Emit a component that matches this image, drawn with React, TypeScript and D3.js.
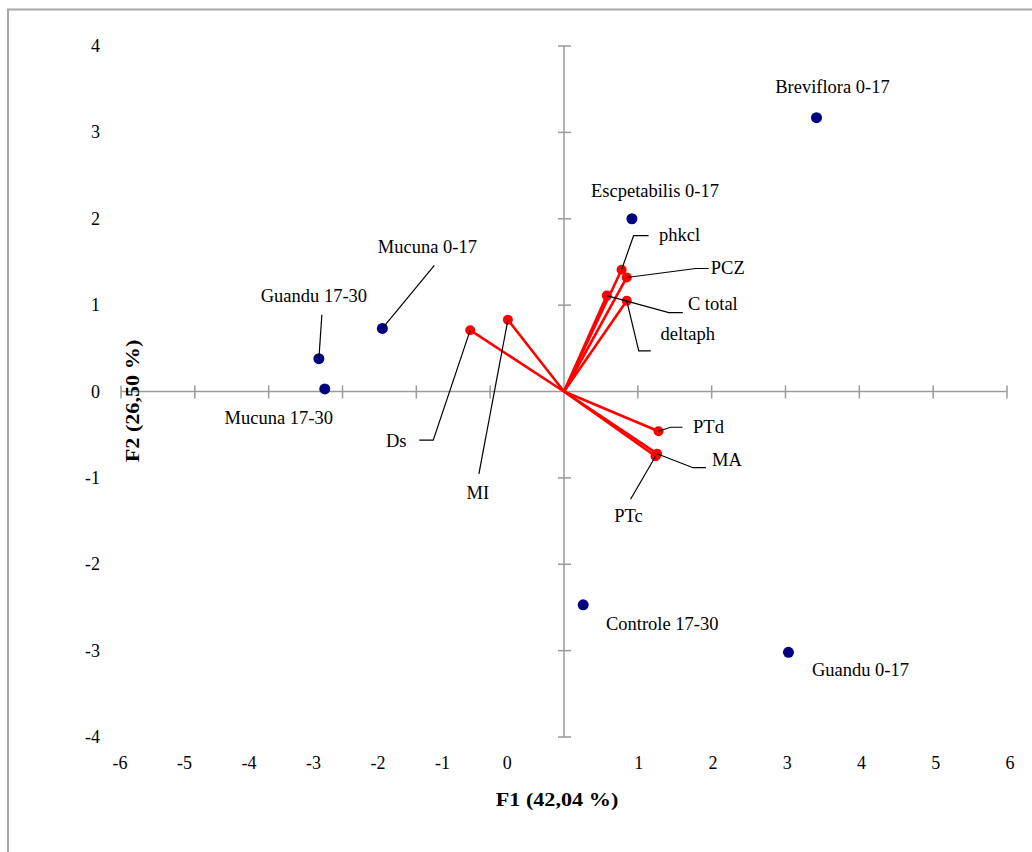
import React from "react";
import * as d3 from "d3";

// observations (blue)
const obsNames = ["Breviflora 0-17", "Escpetabilis 0-17", "Mucuna 0-17", "Guandu 17-30", "Mucuna 17-30", "Controle 17-30", "Guandu 0-17"];
const obsF1 = [3.42, 0.92, -2.46, -3.32, -3.24, 0.26, 3.04];
const obsF2 = [3.17, 2.0, 0.73, 0.38, 0.03, -2.47, -3.02];

// variables (red vectors)
const varNames = ["Ds", "MI", "phkcl", "PCZ", "C total", "deltaph", "PTd", "MA", "PTc"];
const varF1 = [-1.27, -0.76, 0.78, 0.85, 0.58, 0.85, 1.28, 1.26, 1.24];
const varF2 = [0.71, 0.83, 1.41, 1.32, 1.11, 1.05, -0.46, -0.72, -0.75];

const xTicks = [-6, -5, -4, -3, -2, -1, 0, 1, 2, 3, 4, 5, 6];
const yTicks = [-4, -3, -2, -1, 0, 1, 2, 3, 4];

// label placement: text offset + leader elbow points, px relative to the mark
const labelLayout: Record<string, { dx: number; dy: number; leader?: [number, number][] }> = {
  "Breviflora 0-17": { dx: 16, dy: -31 },
  "Escpetabilis 0-17": { dx: 23, dy: -28 },
  "Mucuna 0-17": { dx: 45, dy: -81, leader: [[52, -63]] },
  "Guandu 17-30": { dx: -5, dy: -63, leader: [[3, -44]] },
  "Mucuna 17-30": { dx: -46, dy: 29 },
  "Controle 17-30": { dx: 79, dy: 19 },
  "Guandu 0-17": { dx: 72, dy: 18 },
  Ds: { dx: -74, dy: 111, leader: [[-37, 110], [-51, 110]] },
  MI: { dx: -30, dy: 173, leader: [[-29, 154]] },
  phkcl: { dx: 58, dy: -35, leader: [[12, -34], [27, -34]] },
  PCZ: { dx: 101, dy: -9, leader: [[69, -9], [82, -9]] },
  "C total": { dx: 106, dy: 8, leader: [[62, 17], [76, 17]] },
  deltaph: { dx: 61, dy: 33, leader: [[12, 50], [24, 50]] },
  PTd: { dx: 50, dy: -4, leader: [[12, -4], [24, -4]] },
  MA: { dx: 70, dy: 6, leader: [[36, 14], [49, 14]] },
  PTc: { dx: -27, dy: 60, leader: [[-25, 43]] },
};

const W = 1032;
const H = 852;
const font = "'Liberation Serif', 'Times New Roman', serif";
const axisGray = "#9a9a9a";

export default function App() {
  const x = d3.scaleLinear().domain([-6, 6]).range([121, 1007]);
  const y = d3.scaleLinear().domain([-4, 4]).range([737, 46]);
  // the tick labels of the source sit unevenly on the negative side
  const xLab = d3.scaleLinear().domain([-6, 0, 1, 6]).range([x(-6) - 1, x(-0.77), x(1) + 1, x(6) + 3]);
  const line = d3.line();

  const obs = obsNames.map((n, i) => ({ name: n, px: x(obsF1[i]), py: y(obsF2[i]) }));
  const vars = varNames.map((n, i) => ({ name: n, px: x(varF1[i]), py: y(varF2[i]) }));

  const renderLabel = (d: { name: string; px: number; py: number }) => {
    const l = labelLayout[d.name];
    return (
      <g key={"lab-" + d.name}>
        {l.leader && (
          <path
            d={line([[d.px, d.py], ...l.leader.map(([a, b]) => [d.px + a, d.py + b] as [number, number])]) || ""}
            fill="none"
            stroke="#000"
            strokeWidth={1.2}
          />
        )}
        <text x={d.px + l.dx} y={d.py + l.dy} textAnchor="middle" dominantBaseline="central" fontSize={18.5}>
          {d.name}
        </text>
      </g>
    );
  };

  return (
    <svg width={W} height={H} style={{ position: "absolute", left: 0, top: 0, background: "#fff" }} fontFamily={font}>
      <rect x={8} y={9.5} width={W + 20} height={H + 20} fill="none" stroke="#a8a8a8" strokeWidth={2} />

      {/* axes through the origin */}
      <g stroke={axisGray} strokeWidth={1.5}>
        <line x1={x(-6)} x2={x(6)} y1={y(0)} y2={y(0)} />
        <line x1={x(0)} x2={x(0)} y1={y(4)} y2={y(-4)} />
        {xTicks.filter((t) => t !== 0).map((t) => (
          <line key={"xt" + t} x1={x(t)} x2={x(t)} y1={y(0) - 6} y2={y(0) + 7} />
        ))}
        {yTicks.filter((t) => t !== 0).map((t) => (
          <line key={"yt" + t} x1={x(0) - 6} x2={x(0) + 7} y1={y(t)} y2={y(t)} />
        ))}
      </g>

      {/* tick labels */}
      <g fontSize={18} fill="#000">
        {xTicks.map((t) => (
          <text key={"xl" + t} x={xLab(t)} y={763} textAnchor="middle" dominantBaseline="central">
            {t}
          </text>
        ))}
        {yTicks.map((t) => (
          <text key={"yl" + t} x={100} y={y(t)} textAnchor="end" dominantBaseline="central">
            {t}
          </text>
        ))}
      </g>

      {/* axis titles */}
      <text
        transform={`translate(557,800) scale(1.2,1)`}
        textAnchor="middle"
        dominantBaseline="central"
        fontSize={18.5}
        fontWeight="bold"
      >
        F1 (42,04 %)
      </text>
      <text
        transform={`translate(133,401) rotate(-90) scale(1.2,1)`}
        textAnchor="middle"
        dominantBaseline="central"
        fontSize={18.5}
        fontWeight="bold"
      >
        F2 (26,50 %)
      </text>

      {/* variable vectors */}
      <g stroke="#ff0000" strokeWidth={2.6}>
        {vars.map((d) => (
          <line key={"v" + d.name} x1={x(0)} y1={y(0)} x2={d.px} y2={d.py} />
        ))}
      </g>
      {vars.map((d) => (
        <circle key={"vc" + d.name} cx={d.px} cy={d.py} r={5} fill="#ff0000" />
      ))}

      {/* observations */}
      {obs.map((d) => (
        <circle key={"oc" + d.name} cx={d.px} cy={d.py} r={5.5} fill="#000080" />
      ))}

      {vars.map(renderLabel)}
      {obs.map(renderLabel)}
    </svg>
  );
}
